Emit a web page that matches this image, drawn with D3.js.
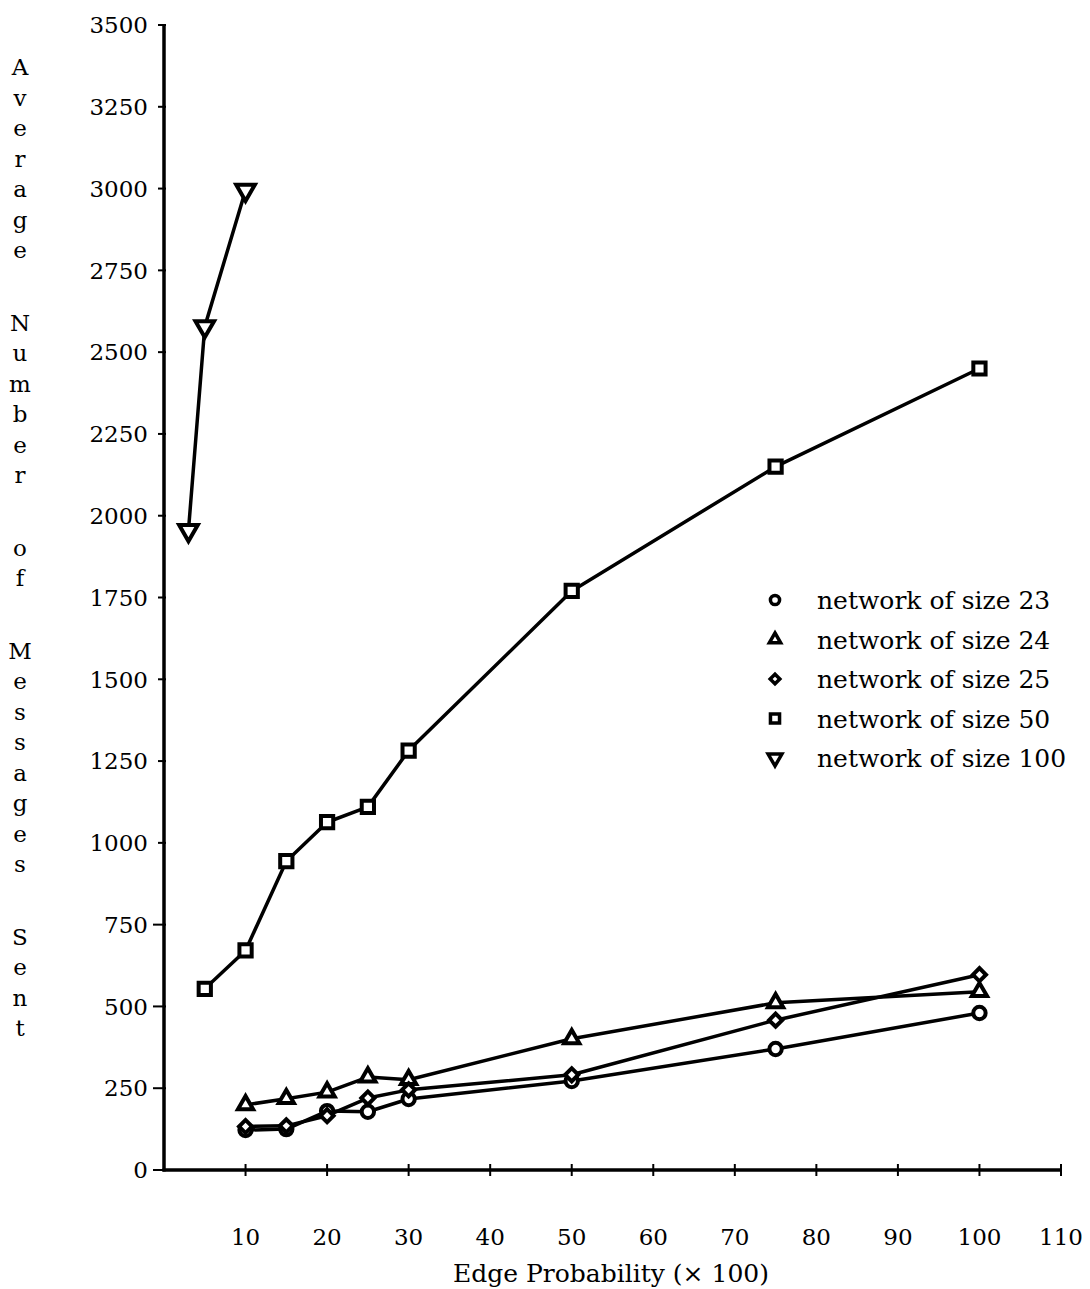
<!DOCTYPE html>
<html lang="en">
<head>
	<meta charset="UTF-8">
	<title>Average Number of Messages Sent</title>
	<script src="https://cdn.jsdelivr.net/npm/d3@7"></script>
	<style>
		html,body{
			margin:0;
			padding:0;
			background:#fff;
		}
		svg{
			display:block;
		}
		text{
			font-family:"DejaVu Serif", "Liberation Serif", serif;
			fill:#000;
		}
		.series path.line{
			fill:none;
			stroke:#000;
			stroke-width:3.5;
			stroke-linejoin:round;
		}
		.marker{
			fill:#fff;
			stroke:#000;
			stroke-width:4;
		}
		.legend .marker{
			stroke-width:3.5;
		}
	</style>
</head>
<body>
	<svg id="svg" width="1090" height="1289"></svg>
	<script>
		// values
		var edgeProb = [10, 15, 20, 25, 30, 50, 75, 100];
		var size23 = [122, 125, 180, 178, 217, 272, 370, 480];
		var size24 = [199, 218, 238, 284, 276, 401, 511, 545];
		var size25 = [133, 135, 166, 220, 245, 291, 458, 597];
		var edgeProb50 = [5, 10, 15, 20, 25, 30, 50, 75, 100];
		var size50 = [554, 671, 944, 1063, 1110, 1282, 1770, 2150, 2450];
		var edgeProb100 = [3, 5, 10];
		var size100 = [1955, 2578, 2995];

		var xTicks = [10, 20, 30, 40, 50, 60, 70, 80, 90, 100, 110];
		var yTicks = [0, 250, 500, 750, 1000, 1250, 1500, 1750, 2000, 2250, 2500, 2750, 3000, 3250, 3500];
		var legendLabels = ["network of size 23", "network of size 24", "network of size 25", "network of size 50", "network of size 100"];
		var yTitle = "Average Number of Messages Sent";
		var xTitle = "Edge Probability (\u00d7 100)";

		var svg = d3.select("svg");

		var x = d3.scaleLinear().domain([0, 110]).range([164, 1061]);
		var y = d3.scaleLinear().domain([0, 3500]).range([1170, 25]);

		var shapes = {
			circle: {type: d3.symbolCircle, size: 120, rot: 0},
			triangle: {type: d3.symbolTriangle, size: 100, rot: 0},
			diamond: {type: d3.symbolSquare, size: 85, rot: 45},
			square: {type: d3.symbolSquare, size: 150, rot: 0},
			down: {type: d3.symbolTriangle, size: 150, rot: 180}
		};

		var series = [
			{xs: edgeProb, ys: size23, shape: "circle"},
			{xs: edgeProb, ys: size24, shape: "triangle"},
			{xs: edgeProb, ys: size25, shape: "diamond"},
			{xs: edgeProb50, ys: size50, shape: "square"},
			{xs: edgeProb100, ys: size100, shape: "down"}
		];
		series.forEach(function(s){
			s.points = s.xs.map(function(v, i){ return {x: v, y: s.ys[i]}; });
		});

		// axes
		var axes = svg.append("g");
		axes.append("line")
			.attr("x1", x(0)).attr("x2", x(0))
			.attr("y1", y(0) + 1.5).attr("y2", y(3500))
			.attr("stroke", "#000").attr("stroke-width", 3.5);
		axes.append("line")
			.attr("x1", x(0) - 1.5).attr("x2", x(110) + 1)
			.attr("y1", y(0)).attr("y2", y(0))
			.attr("stroke", "#000").attr("stroke-width", 3.5);

		axes.selectAll(".ytick")
			.data(yTicks)
			.enter().append("line")
			.attr("x1", function(d){ return d <= 750 ? x(0) - 11 : x(0) - 6; })
			.attr("x2", x(0) + 2)
			.attr("y1", function(d){ return y(d); })
			.attr("y2", function(d){ return y(d); })
			.attr("stroke", "#000").attr("stroke-width", 2);

		axes.selectAll(".ylabel")
			.data(yTicks)
			.enter().append("text")
			.attr("x", 148)
			.attr("y", function(d){ return y(d); })
			.attr("dy", "0.36em")
			.attr("text-anchor", "end")
			.style("font-size", "23px")
			.text(function(d){ return d; });

		axes.selectAll(".xtick")
			.data(xTicks)
			.enter().append("line")
			.attr("x1", function(d){ return x(d); })
			.attr("x2", function(d){ return x(d); })
			.attr("y1", y(0) - 6)
			.attr("y2", y(0) + 6)
			.attr("stroke", "#000").attr("stroke-width", 2);

		axes.selectAll(".xlabel")
			.data(xTicks)
			.enter().append("text")
			.attr("x", function(d){ return x(d); })
			.attr("y", 1245)
			.attr("text-anchor", "middle")
			.style("font-size", "23px")
			.text(function(d){ return d; });

		svg.append("text")
			.attr("x", 611)
			.attr("y", 1282)
			.attr("text-anchor", "middle")
			.style("font-size", "25px")
			.text(xTitle);

		// vertical title, one letter per line
		var letters = [], ly = 67;
		yTitle.split("").forEach(function(c){
			if(c == " "){ ly += 42; return; }
			letters.push({c: c, y: ly});
			ly += 30.5;
		});
		svg.append("g").selectAll("text")
			.data(letters)
			.enter().append("text")
			.attr("x", 20)
			.attr("y", function(d){ return d.y; })
			.attr("dy", "0.36em")
			.attr("text-anchor", "middle")
			.style("font-size", "23px")
			.text(function(d){ return d.c; });

		// series
		var line = d3.line()
			.x(function(d){ return x(d.x); })
			.y(function(d){ return y(d.y); });

		var g = svg.selectAll(".series")
			.data(series)
			.enter().append("g")
			.attr("class", "series");

		g.append("path")
			.attr("class", "line")
			.attr("d", function(d){ return line(d.points); });

		function symbolPath(name, scale){
			var sh = shapes[name];
			return d3.symbol().type(sh.type).size(sh.size * (scale || 1))();
		}

		g.each(function(s){
			d3.select(this).selectAll(".marker")
				.data(s.points)
				.enter().append("path")
				.attr("class", "marker")
				.attr("d", symbolPath(s.shape))
				.attr("transform", function(d){
					return "translate(" + x(d.x) + "," + y(d.y) + ") rotate(" + shapes[s.shape].rot + ")";
				});
		});

		// legend
		var legend = svg.append("g").attr("class", "legend").selectAll("g")
			.data(series)
			.enter().append("g")
			.attr("transform", function(d, i){ return "translate(775," + (600 + i * 39.5) + ")"; });

		legend.append("path")
			.attr("class", "marker")
			.attr("d", function(d){ return symbolPath(d.shape, 0.55); })
			.attr("transform", function(d){ return "rotate(" + shapes[d.shape].rot + ")"; });

		legend.append("text")
			.attr("x", 42)
			.attr("dy", "0.36em")
			.style("font-size", "25px")
			.text(function(d, i){ return legendLabels[i]; });
	</script>
</body>
</html>
